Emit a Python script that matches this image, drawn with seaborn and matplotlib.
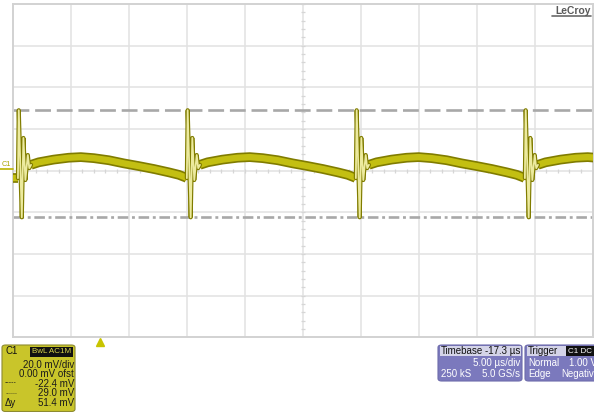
import numpy as np
import pandas as pd
import matplotlib
matplotlib.use("Agg")
import matplotlib.pyplot as plt
import matplotlib.patheffects as pe
from matplotlib.patches import FancyBboxPatch, Rectangle
import seaborn as sns

# ---- waveform data (time in µs relative to trigger, amplitude in mV) ----
edge_times_us = [-7.00, 7.56, 22.13, 36.70]          # switching edges
ring_t_us = [-0.07, 0.00, 0.26, 0.40, 0.57, 0.78, 0.91, 1.06]
ring_mv = [-3.6, 29.0, -22.4, 15.7, -4.5, 7.5, 1.2, 2.8]
ramp_t_us = [1.06, 1.72, 3.00, 4.30, 5.35, 6.47, 7.76, 9.05, 10.34,
             11.64, 12.93, 13.80, 14.40, 14.50]
ramp_mv = [2.8, 4.0, 5.3, 6.2, 6.5, 6.0, 5.0, 3.5, 2.2, 0.8, -0.8,
           -2.0, -3.3, -3.6]
lead_t_us = [-7.70, -7.07]
lead_mv = [-3.6, -3.6]
cursor_mv = [29.0, -22.4]

c1_rows = ["20.0 mV/div", "0.00 mV ofst", "-22.4 mV", "29.0 mV", "51.4 mV"]
tb_rows = ["-17.3 µs", "5.00 µs/div", "250 kS", "5.0 GS/s"]
trig_rows = ["Normal", "1.00 V", "Edge", "Negative"]

# ---- screen geometry ----
V_PER_DIV = 20.0
T_PER_DIV = 5.0
T_CENTER = 17.46
W, H = 594, 412

sns.set_style("white")
plt.rcParams["font.family"] = ["Liberation Sans", "DejaVu Sans"]

fig = plt.figure(figsize=(W / 100, H / 100), dpi=100)
fig.patch.set_facecolor("white")
left, right, top, bottom = 12.5, 592.5, 4.0, 337.3
ax = fig.add_axes([left / W, 1 - bottom / H, (right - left) / W, (bottom - top) / H])
ax.set_xlim(T_CENTER - 5 * T_PER_DIV, T_CENTER + 5 * T_PER_DIV)
ax.set_ylim(-4 * V_PER_DIV, 4 * V_PER_DIV)
ax.set_xticks([]); ax.set_yticks([])
for s in ax.spines.values():
    s.set_color("#d2d2d2"); s.set_linewidth(1.4)

grid_c = "#e2e2e2"
for k in range(-4, 5):
    ax.axvline(T_CENTER + k * T_PER_DIV, color=grid_c, lw=1.1, zorder=1)
for k in range(-3, 4):
    ax.axhline(k * V_PER_DIV, color=grid_c, lw=1.1, zorder=1)

# minor division marks on the centre cross
xt = np.arange(T_CENTER - 25, T_CENTER + 25.01, 1.0)
ax.plot(xt, np.zeros_like(xt), ls="none", marker="|", ms=3.5, mew=0.9, color="#d6d6d6", zorder=1)
yt = np.arange(-80, 80.01, 4.0)
ax.plot(np.full_like(yt, T_CENTER), yt, ls="none", marker="_", ms=3.5, mew=0.9, color="#d6d6d6", zorder=1)

# cursors
ax.axhline(cursor_mv[0], color="#a8a8a8", lw=1.9, dashes=(6, 2.2), zorder=2)
ax.axhline(cursor_mv[1], color="#a8a8a8", lw=1.9, dashes=(4, 1.4, 1.1, 1.4), zorder=2)

# ---- build trace segments ----
ramp_parts = [pd.DataFrame({"t": lead_t_us, "mv": lead_mv, "seg": "lead"})]
ring_parts = []
for k, e in enumerate(edge_times_us):
    ramp_parts.append(pd.DataFrame({"t": np.add(ramp_t_us, e), "mv": ramp_mv, "seg": f"ramp{k}"}))
    ring_parts.append(pd.DataFrame({"t": np.add(ring_t_us, e), "mv": ring_mv, "seg": f"ring{k}"}))
ramp_df = pd.concat(ramp_parts, ignore_index=True)
ring_df = pd.concat(ring_parts, ignore_index=True)

dark = "#807c00"
band = "#c3bf12"
pale = "#ecea9e"
sns.lineplot(data=ramp_df, x="t", y="mv", units="seg", estimator=None, sort=False,
             color=band, lw=4.6, solid_capstyle="butt", zorder=4, ax=ax,
             path_effects=[pe.Stroke(linewidth=7.0, foreground=dark), pe.Normal()])
sns.lineplot(data=ring_df, x="t", y="mv", units="seg", estimator=None, sort=False,
             color=pale, lw=1.3, zorder=5, ax=ax,
             path_effects=[pe.Stroke(linewidth=3.0, foreground=dark), pe.Normal()])
ax.set_xlabel(""); ax.set_ylabel("")

# trigger position marker
ax.plot([0], [-82.4], marker="^", ms=5.5, color="#c8c400", clip_on=False, zorder=6)


def fx(px):
    return px / W


def fy(py):
    return 1 - py / H


# channel ground marker
fig.text(fx(1.5), fy(164.5), "C1", fontsize=5.2, color="#aaa400", va="center", ha="left")
fig.add_artist(plt.Line2D([fx(0), fx(12.5)], [fy(169), fy(169)], color="#bbb400", lw=1.2))

# brand label
fig.text(fx(590.5), fy(10.5), "LeCroy", fontsize=7.4, color="#5a5a5a", ha="right", va="center",
         fontweight="bold")
fig.add_artist(plt.Line2D([fx(552), fx(591)], [fy(15.5), fy(15.5)], color="#6a6a6a", lw=1.2))


def panel(x0, y0, x1, y1, fc, ec):
    fig.add_artist(FancyBboxPatch((fx(x0), fy(y1)), fx(x1) - fx(x0), fy(y0) - fy(y1),
                                  boxstyle="round,pad=0,rounding_size=0.006",
                                  transform=fig.transFigure, fc=fc, ec=ec, lw=0.8))


def box(x0, y0, x1, y1, fc):
    fig.add_artist(Rectangle((fx(x0), fy(y1)), fx(x1) - fx(x0), fy(y0) - fy(y1),
                             transform=fig.transFigure, fc=fc, ec="none"))


fs = 7.0
# channel panel
panel(2, 345, 75, 411.5, "#c9c52a", "#8d8a30")
fig.text(fx(5), fy(351), "C1", fontsize=fs, color="#111111", va="center")
box(30, 346.5, 73, 356.5, "#111111")
fig.text(fx(51.5), fy(351.5), "BwL AC1M", fontsize=5.8, color="#d8d44a", va="center", ha="center")
for row, y in zip(c1_rows, [364.5, 374, 384, 393.5, 403]):
    fig.text(fx(74), fy(y), row, fontsize=fs, color="#1a1a1a", va="center", ha="right")
fig.text(fx(5), fy(383), "-----", fontsize=5, color="#1a1a1a", va="center")
fig.text(fx(5), fy(392), "......", fontsize=5, color="#1a1a1a", va="center")
fig.text(fx(5), fy(403.5), "Δy", fontsize=fs, color="#1a1a1a", va="center")

# timebase panel
panel(438, 345, 522, 381, "#7b79bd", "#6d6bab")
box(439.5, 346.3, 520.5, 356.3, "#d4d4e8")
fig.text(fx(441), fy(351.3), "Timebase", fontsize=fs, color="#111111", va="center")
fig.text(fx(520), fy(351.3), tb_rows[0], fontsize=fs, color="#111111", va="center", ha="right")
fig.text(fx(520), fy(363.5), tb_rows[1], fontsize=fs, color="white", va="center", ha="right")
fig.text(fx(441), fy(374), tb_rows[2], fontsize=fs, color="white", va="center")
fig.text(fx(520), fy(374), tb_rows[3], fontsize=fs, color="white", va="center", ha="right")

# trigger panel
panel(525, 345, 610, 381, "#7b79bd", "#6d6bab")
box(526.5, 346.3, 566, 356.3, "#d4d4e8")
box(566, 346.3, 600, 356.3, "#111111")
fig.text(fx(528), fy(351.3), "Trigger", fontsize=fs, color="#111111", va="center")
fig.text(fx(568), fy(351.5), "C1 DC", fontsize=5.8, color="white", va="center")
fig.text(fx(528), fy(363.5), trig_rows[0], fontsize=fs, color="white", va="center")
fig.text(fx(597), fy(363.5), trig_rows[1], fontsize=fs, color="white", va="center", ha="right")
fig.text(fx(528), fy(374), trig_rows[2], fontsize=fs, color="white", va="center")
fig.text(fx(599), fy(374), trig_rows[3], fontsize=fs, color="white", va="center", ha="right")

fig.savefig("out.png", dpi=100)
